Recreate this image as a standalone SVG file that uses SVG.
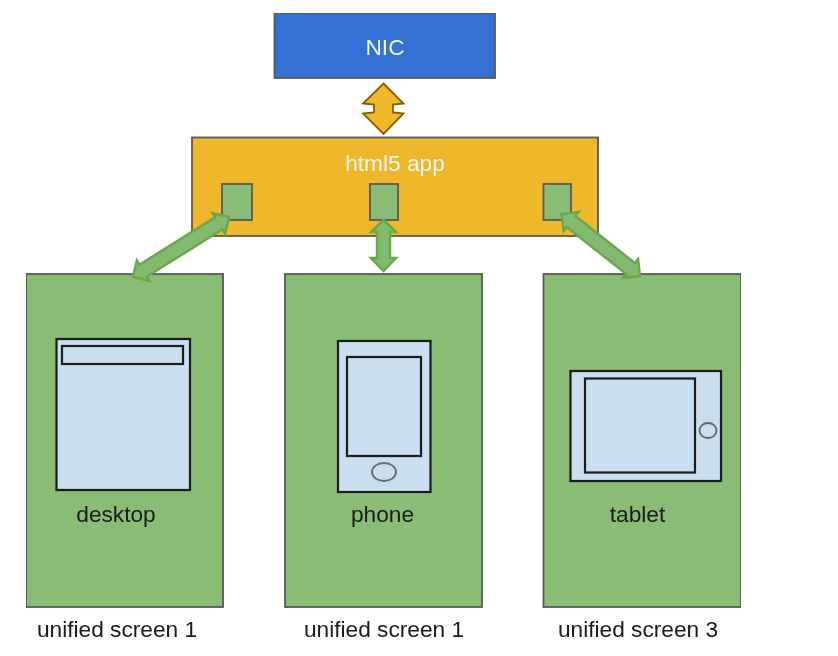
<svg xmlns="http://www.w3.org/2000/svg" width="838" height="656" viewBox="0 0 838 656">
<defs><filter id="soft" x="0" y="0" width="100%" height="100%"><feGaussianBlur stdDeviation="0.5"/></filter></defs>
<style>
.box{stroke:#595959;stroke-width:1.8}
.green{fill:#89bc74}
.light{fill:#c9deef;stroke:#1a1a1a;stroke-width:2.2}
.ring{fill:none;stroke:#666;stroke-width:1.8}
.conn{fill:#84ba70;stroke:#6aa84f;stroke-width:2.500;stroke-linejoin:miter}
text{font-family:"Liberation Sans",Arial,sans-serif;font-size:22.700px;fill:#1a1a1a;text-anchor:middle}
.w{fill:#f4f4f4}
</style>
<rect width="838" height="656" fill="#fff"/>
<g filter="url(#soft)">
<g id="nic"><rect class="box" x="274.500" y="13" width="220.500" height="65" fill="#3570d4"/><text class="w" x="385" y="55">NIC</text></g>
<g id="app"><rect class="box" x="192" y="137.500" width="406" height="98.500" fill="#efb82a"/><text class="w" x="395" y="171">html5 app</text>
<rect class="box green" x="222" y="184" width="30" height="36"/><rect class="box green" x="370" y="184" width="28" height="36"/><rect class="box green" x="543.500" y="184" width="27.500" height="36"/></g>
<g id="screen1"><rect class="box green" x="26" y="274" width="197" height="333"/>
<rect class="light" x="56.500" y="339" width="133.500" height="151"/><rect class="light" x="62" y="346" width="121" height="18"/>
<text x="116" y="522">desktop</text></g>
<g id="screen2"><rect class="box green" x="285" y="274" width="197" height="333"/>
<rect class="light" x="338" y="341" width="92.500" height="151"/><rect class="light" x="347" y="357" width="74" height="99"/><ellipse class="ring" cx="384" cy="472" rx="12" ry="9"/>
<text x="382.500" y="522">phone</text></g>
<g id="screen3"><rect class="box green" x="543.500" y="274" width="197.500" height="333"/>
<rect class="light" x="570.500" y="371" width="150.500" height="110"/><rect class="light" x="585" y="378.500" width="110" height="94"/><ellipse class="ring" cx="708" cy="430.500" rx="8.500" ry="7.500"/>
<text x="637.500" y="522">tablet</text></g>
<g id="captions"><text x="117" y="637">unified screen 1</text><text x="384" y="637">unified screen 1</text><text x="638" y="637">unified screen 3</text></g>
<g id="connectors">
<polygon points="383.500,83.500 403.500,103.500 393,104.500 393,112.500 403.500,113.500 383.500,134 363,113.500 374,112.500 374,104.500 363,103.500" fill="#efb82a" stroke="#7f6000" stroke-width="1.800"/>
<polygon class="conn" transform="translate(229 217) rotate(148)" points="0,0 12,-12 12,-7 101.200,-7 101.200,-12 113.200,0 101.200,12 101.200,7 12,7 12,12"/>
<polygon class="conn" points="383.500,220 396,232 390,232 390,258 396,258 383.500,271 371,258 377,258 377,232 371,232"/>
<polygon class="conn" transform="translate(561.700 214) rotate(38.400)" points="0,0 12,-12 12,-7 87.900,-7 87.900,-12 99.900,0 87.900,12 87.900,7 12,7 12,12"/>
</g>
</g>
</svg>
